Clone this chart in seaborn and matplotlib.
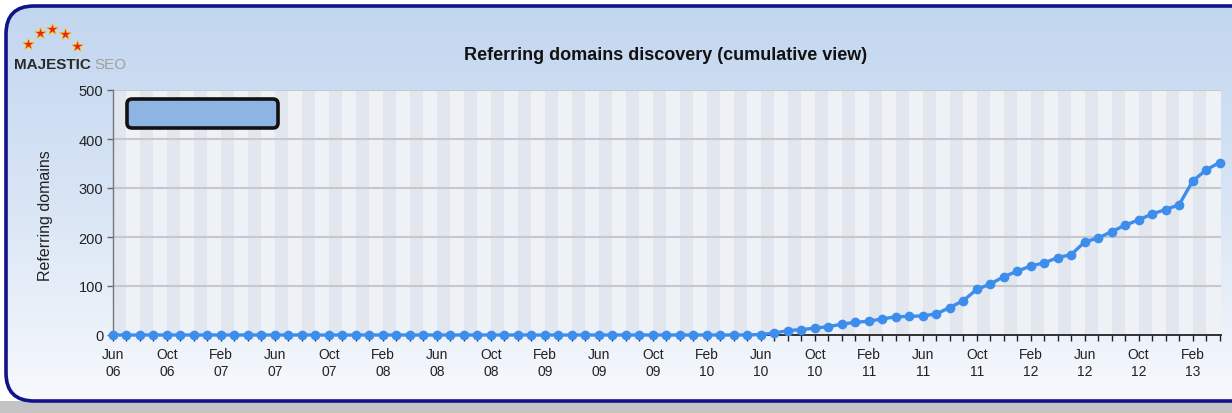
import numpy as np
import pandas as pd
import matplotlib
matplotlib.use("Agg")
import matplotlib.pyplot as plt
import seaborn as sns
from matplotlib.patches import FancyBboxPatch, Rectangle
from matplotlib.colors import LinearSegmentedColormap

# ---------------- data ----------------
month_labels = ["Jun", "Jul", "Aug", "Sep", "Oct", "Nov", "Dec", "Jan", "Feb", "Mar", "Apr", "May"]
start_year = 6
n_months = 83  # Jun 06 .. Apr 13
referring_domains = [
    0, 0, 0, 0, 0, 0, 0, 0, 0, 0, 0, 0,
    0, 0, 0, 0, 0, 0, 0, 0, 0, 0, 0, 0,
    0, 0, 0, 0, 0, 0, 0, 0, 0, 0, 0, 0,
    0, 0, 0, 0, 0, 0, 0, 0, 0, 0, 0, 0,
    1, 4, 9, 11, 14, 17, 22, 26, 28, 33, 37, 38,
    39, 43, 56, 70, 93, 104, 119, 130, 141, 147, 158, 164,
    190, 198, 211, 224, 235, 247, 256, 266, 314, 337, 352,
]
y_ticks = [0, 100, 200, 300, 400, 500]
title = "Referring domains discovery (cumulative view)"
y_label = "Referring domains"

month_idx = list(range(len(referring_domains)))
tick_text = []
for i in month_idx:
    m = month_labels[i % 12]
    yr = start_year + (i + 5) // 12
    tick_text.append(f"{m}\n{yr:02d}")

df = pd.DataFrame({"month": month_idx, "domains": referring_domains})

# ---------------- figure ----------------
sns.set_theme(style="white")
plt.rcParams["font.family"] = ["Liberation Sans", "DejaVu Sans"]

W, H = 1232, 414
fig = plt.figure(figsize=(W / 100, H / 100), dpi=100)
fig.patch.set_facecolor("white")

bg = fig.add_axes([0, 0, 1, 1])
bg.set_xlim(0, W)
bg.set_ylim(H, 0)
bg.axis("off")

# shadow strip at bottom
bg.add_patch(Rectangle((0, 402), W, 20, facecolor="#c4c4c4", edgecolor="none", zorder=0))

panel = FancyBboxPatch((6, 7), W + 40, 395, boxstyle="round,pad=0,rounding_size=28",
                       facecolor="none", edgecolor="#12128a", linewidth=2.6, zorder=3)
bg.add_patch(panel)
grad = np.linspace(0, 1, 256).reshape(-1, 1)
cmap = LinearSegmentedColormap.from_list("g", ["#c2d6ef", "#d9e5f5", "#f7f9fd"])
im = bg.imshow(grad, cmap=cmap, extent=[0, W, 402, 7], aspect="auto", zorder=1)
clip = FancyBboxPatch((6, 7), W + 40, 395, boxstyle="round,pad=0,rounding_size=28",
                      facecolor="none", edgecolor="none", transform=bg.transData)
bg.add_patch(clip)
im.set_clip_path(clip)

# logo
star_x = [28, 40, 52, 65, 77]
star_y = [45, 34, 30, 35, 47]
bg.scatter(star_x, star_y, marker="*", s=75, color="#e8231b", edgecolor="#f5c400",
           linewidth=0.5, zorder=5)
bg.text(14, 65, "MAJESTIC", fontsize=11, fontweight="bold", color="#2a2a2a",
        va="center", ha="left", zorder=5)
bg.text(94, 65, "SEO", fontsize=11, color="#a0a0a0", va="center", ha="left", zorder=5)

# title
bg.text(666, 55, title, fontsize=13, fontweight="bold", color="#111111",
        ha="center", va="center", zorder=5)

# y label
bg.text(46, 216, y_label, fontsize=11.5, color="#222222", rotation=90,
        ha="center", va="center", zorder=5)

# ---------------- plot area ----------------
x0, x1, yt, yb = 113, 1221, 91, 336
ax = fig.add_axes([x0 / W, (H - yb) / H, (x1 - x0) / W, (yb - yt) / H])
ax.set_facecolor("#eef1f6")
ax.set_xlim(0, n_months - 1 + 0.1)
ax.set_ylim(0, 500)

for i in range(0, n_months - 1):
    if i % 2 == 0:
        ax.axvspan(i, i + 1, color="#e1e6ef", linewidth=0, zorder=0)

for yv in y_ticks[1:]:
    ax.axhline(yv, color="#c6c8cc", linewidth=1.5, zorder=1)

sns.lineplot(data=df, x="month", y="domains", ax=ax, color="#3d8ded", linewidth=2.4,
             marker="o", markersize=7, markeredgewidth=0, zorder=4, clip_on=False)

ax.set_xlabel("")
ax.set_ylabel("")
ax.set_yticks(y_ticks)
ax.set_yticklabels([str(v) for v in y_ticks], fontsize=10.5, color="#222222")
ax.set_xticks(month_idx[::4])
ax.set_xticklabels(tick_text[::4], fontsize=10, color="#222222", linespacing=1.2)
ax.set_xticks(month_idx, minor=True)
ax.tick_params(axis="x", which="both", direction="out", length=4, width=1,
               color="#222222", bottom=True, pad=5)
ax.tick_params(axis="y", which="major", direction="out", length=4, width=1,
               color="#666666", left=True, pad=3)

for s in ["top", "right"]:
    ax.spines[s].set_visible(False)
ax.spines["bottom"].set_color("#222222")
ax.spines["bottom"].set_linewidth(1.3)
ax.spines["left"].set_color("#777777")
ax.spines["left"].set_linewidth(1.0)

# legend placeholder box (redacted legend) drawn on an overlay
ov = fig.add_axes([0, 0, 1, 1])
ov.set_xlim(0, W)
ov.set_ylim(H, 0)
ov.axis("off")
ov.patch.set_alpha(0)
ov.add_patch(FancyBboxPatch((127, 100), 151, 29, boxstyle="round,pad=0,rounding_size=5",
                            facecolor="#8db4e2", edgecolor="#111111", linewidth=2.6, zorder=6))

fig.savefig("out.png", dpi=100)
